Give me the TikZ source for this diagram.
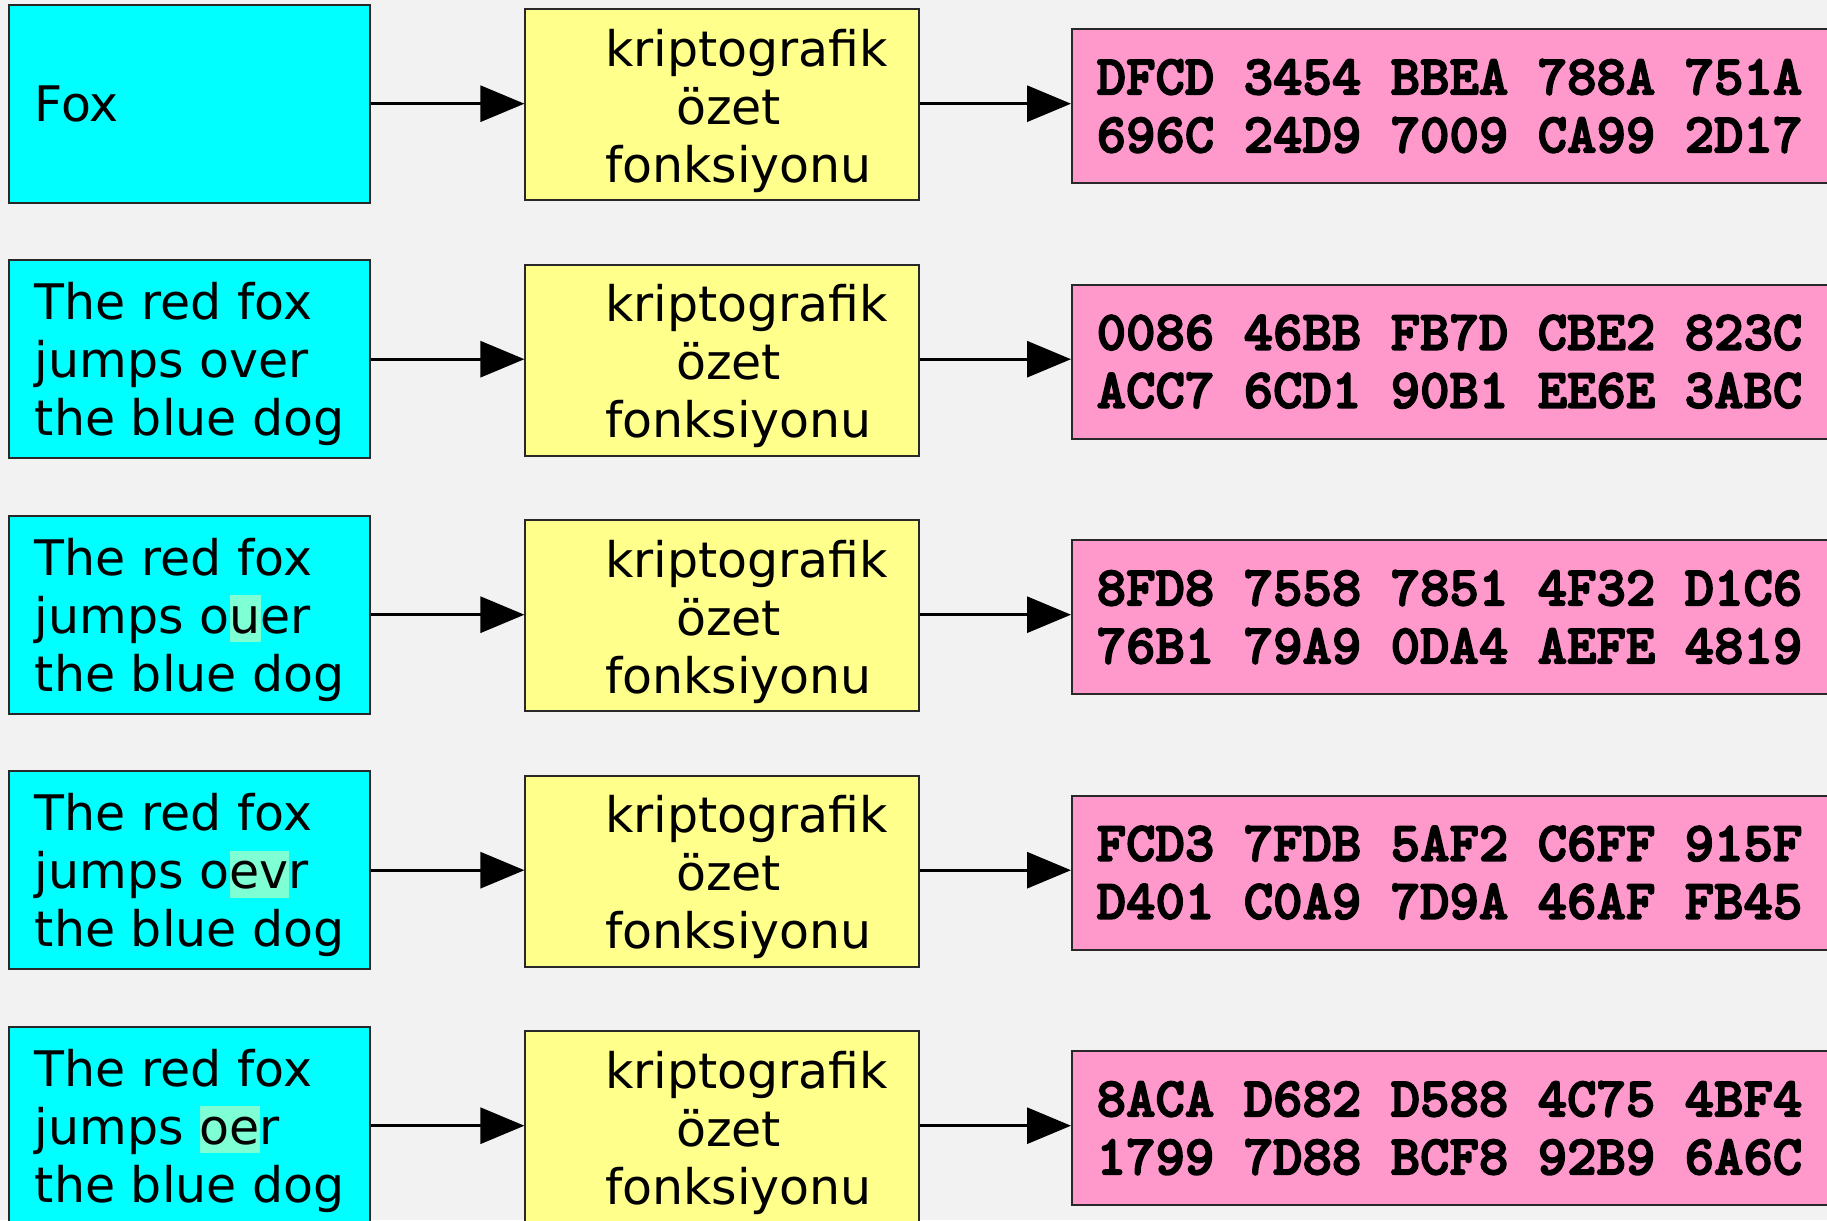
\documentclass[tikz,border=0pt]{standalone}
\usepackage{fontspec}
\setmainfont{DejaVu Sans}
\newfontfamily\hexfont[FakeBold=3]{lmmonolt10-bold.otf}
\usetikzlibrary{arrows.meta}
\definecolor{bggray}{RGB}{242,242,242}
\definecolor{msgcyan}{RGB}{0,255,255}
\definecolor{fnyellow}{RGB}{255,255,140}
\definecolor{digestpink}{RGB}{255,153,204}
\definecolor{changemark}{RGB}{127,255,212}
\definecolor{edgegray}{RGB}{40,40,40}
\newcommand{\changed}[1]{{\setlength{\fboxsep}{0pt}\colorbox{changemark}{\rule[-0.18em]{0pt}{0.96em}#1}}}

\begin{document}
\begin{tikzpicture}[x=1pt,y=-1pt,
    box/.style={draw=edgegray,line width=2pt,inner sep=0pt},
    msgbox/.style={box,fill=msgcyan,minimum width=361pt,minimum height=198pt},
    fnbox/.style={box,fill=fnyellow,minimum width=394pt,minimum height=191pt},
    digestbox/.style={box,fill=digestpink,minimum width=800pt,minimum height=154pt},
    boxtext/.style={anchor=west,inner sep=0pt,align=left,font=\fontsize{49pt}{58pt}\selectfont},
    hextext/.style={boxtext,font=\fontsize{56pt}{58pt}\hexfont},
    flow/.style={line width=3pt,-{Triangle[length=44pt,width=36pt]}}]
  \fill[bggray] (0,0) rectangle (1827,1220);
  \useasboundingbox (0,0) rectangle (1827,1220);

  % one row per message: input -> hash function -> digest
  \foreach \i/\hexA/\hexB in {%
      0/DFCD 3454 BBEA 788A 751A/696C 24D9 7009 CA99 2D17,
      1/0086 46BB FB7D CBE2 823C/ACC7 6CD1 90B1 EE6E 3ABC,
      2/8FD8 7558 7851 4F32 D1C6/76B1 79A9 0DA4 AEFE 4819,
      3/FCD3 7FDB 5AF2 C6FF 915F/D401 C0A9 7D9A 46AF FB45,
      4/8ACA D682 D588 4C75 4BF4/1799 7D88 BCF8 92B9 6A6C} {
    \pgfmathsetmacro\yc{103.7+255.5*\i}
    \node[msgbox] (msg\i) at (189.75,\yc) {};
    \node[fnbox] (fn\i) at (722.4,\yc+1.1) {};
    \node[digestbox] (dg\i) at (1472,\yc+2.3) {};
    \node[boxtext] (fntext\i) at ([xshift=80.5pt,yshift=-6pt]fn\i.west)
      {kriptografik\\\hspace*{71pt}özet\\fonksiyonu};
    \node[hextext] (dgtext\i) at ([xshift=25.5pt]dg\i.west) {\hexA\\\hexB};
    \draw[flow] (msg\i.east) -- (fn\i.west |- msg\i.east);
    \draw[flow] (fn\i.east |- msg\i.east) -- (dg\i.west |- msg\i.east);
  }

  % the messages, with the changed letters marked
  \node[boxtext] (msgtext0) at ([xshift=26.5pt]msg0.west) {Fox};
  \node[boxtext] (msgtext1) at ([xshift=26.5pt,yshift=-5pt]msg1.west)
    {The red fox\\jumps over\\the blue dog};
  \node[boxtext] (msgtext2) at ([xshift=26.5pt,yshift=-5pt]msg2.west)
    {The red fox\\jumps o\changed{u}er\\the blue dog};
  \node[boxtext] (msgtext3) at ([xshift=26.5pt,yshift=-5pt]msg3.west)
    {The red fox\\jumps o\changed{ev}r\\the blue dog};
  \node[boxtext] (msgtext4) at ([xshift=26.5pt,yshift=-5pt]msg4.west)
    {The red fox\\jumps \changed{oe}r\\the blue dog};
\end{tikzpicture}
\end{document}
